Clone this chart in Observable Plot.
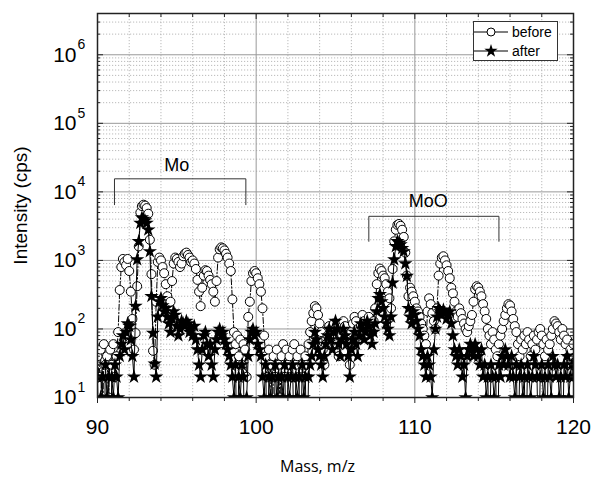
<!DOCTYPE html>
<html><head><meta charset="utf-8">
<script src="https://cdn.jsdelivr.net/npm/d3@7"></script>
<script src="https://cdn.jsdelivr.net/npm/@observablehq/plot@0.6"></script>
<style>
body{margin:0;background:#fff}
#wrap{position:relative;width:595px;height:477px}
.legend{position:absolute;left:473px;top:21px;width:83px;height:38px;border:1px solid #333;background:#fff;font:14px "Liberation Sans",Arial,sans-serif;color:#000}
.row{position:absolute;left:0;height:18px;display:flex;align-items:center}
.row svg{display:block}
.row span{margin-left:4px}
</style></head><body><div id="wrap"></div>
<script>
// sampling grid of the spectrum
const massStart = 90, massStep = 0.1;

// "before" intensities (cps), one value per 0.1 m/z from 90.0 to 120.0
const before = [
  40,20,50,0,60,30,40,10,50,30,
  60,20,40,90,370,800,1050,950,850,1050,
  700,350,140,50,87,420,1600,5000,6200,6500,
  6300,5800,4800,2000,630,48,30,250,950,1100,
  1000,800,650,450,300,200,250,500,900,1100,
  1050,950,800,900,1150,1250,1300,1200,1100,950,
  1000,900,750,520,350,215,400,600,720,700,
  600,520,450,350,250,500,1100,1450,1550,1500,
  1400,1250,1100,900,700,270,90,60,80,40,
  70,30,60,50,20,150,250,500,650,700,
  650,550,450,350,200,80,40,20,50,30,
  0,40,20,50,30,10,40,60,20,50,
  30,40,20,50,60,30,40,20,50,30,
  20,40,30,60,90,130,170,215,200,160,
  120,90,50,30,60,80,110,100,70,120,
  100,60,40,80,120,130,110,80,60,30,
  90,120,150,130,100,80,110,160,130,100,
  120,150,110,90,130,200,450,650,760,700,
  600,550,450,350,280,200,750,1900,2800,3300,
  3400,3200,2800,2200,1300,600,300,400,350,300,
  250,200,180,150,120,100,80,60,180,280,
  230,170,130,100,200,600,900,1100,1150,1000,
  850,700,550,400,330,250,180,150,200,170,
  140,120,100,90,110,130,160,250,380,420,
  400,350,300,230,180,140,100,80,60,90,
  70,50,40,60,80,100,130,160,200,230,
  220,180,140,110,90,60,40,70,50,80,
  60,90,70,40,60,80,50,70,90,100,
  80,60,40,70,50,60,80,100,130,120,
  110,90,70,100,80,60,70,40,50,30,
  60
];

// "after" intensities (cps), same grid
const after = [
  20,0,10,20,0,30,10,20,0,20,
  10,30,20,10,40,60,80,50,90,120,
  110,70,40,20,215,1030,1900,3500,4200,4000,
  3800,3500,2800,1350,300,87,31,20,150,250,
  280,220,180,200,150,120,90,140,180,160,
  110,80,100,130,120,110,130,120,90,100,
  80,110,70,50,30,20,50,80,90,60,
  40,60,30,20,50,70,90,100,80,90,
  70,60,50,40,30,20,10,30,0,20,
  10,30,20,0,10,40,70,90,100,80,
  90,60,50,40,20,10,30,0,20,10,
  20,0,30,10,20,0,20,10,30,0,
  20,10,20,30,0,20,10,20,0,30,
  10,20,0,20,30,40,60,90,70,50,
  40,30,20,40,60,80,100,70,50,90,
  130,100,60,40,70,100,80,60,40,20,
  50,70,90,60,40,80,120,100,70,90,
  130,110,80,60,90,120,180,280,320,250,
  200,150,120,100,80,150,470,1030,1600,1900,
  1800,1700,1500,1350,900,590,200,150,120,180,
  160,130,100,80,50,40,30,20,40,30,
  20,10,50,100,150,200,180,160,190,170,
  140,160,180,120,80,50,40,30,50,40,
  20,30,10,40,50,60,50,40,60,50,
  40,30,50,20,30,10,20,0,30,20,
  10,20,0,30,20,40,30,50,40,30,
  20,40,20,10,30,0,20,30,10,20,
  0,30,20,10,20,40,30,20,0,20,
  30,10,20,0,30,20,10,40,30,20,
  30,10,20,0,30,20,40,10,20,30,
  20
];

const seriesNames = ["before", "after"];
const xTickLabels = [90, 100, 110, 120];
const xMinorTicks = [92, 94, 96, 98, 102, 104, 106, 108, 112, 114, 116, 118];
const xInnerMajor = [100, 110];
const yDecades = [10, 100, 1000, 10000, 100000, 1000000];
const yExponents = ["1", "2", "3", "4", "5", "6"];
const yMultipliers = [2, 3, 4, 5, 6, 7, 8, 9];

// annotation brackets
const bracketNames = ["Mo", "MoO"];
const bracketX1 = [91.07, 107.1];
const bracketX2 = [99.35, 115.3];
const bracketTop = [15500, 4400];
const bracketEnd = [6500, 1900];
const labelX = [95.0, 110.85];
const labelY = [24500, 7400];

const yMax = 4e6;
const yMinor = yDecades.flatMap(d => yMultipliers.map(m => d * m)).filter(v => v < yMax);

const toRows = vals => vals.map((v, i) => ({mass: +(massStart + i * massStep).toFixed(1), v}));
const rowsBefore = toRows(before), rowsAfter = toRows(after);
const yv = d => d.v > 0 ? d.v : 1;

const bracketPts = bracketNames.flatMap((n, i) => [
  {n, x: bracketX1[i], y: bracketEnd[i]},
  {n, x: bracketX1[i], y: bracketTop[i]},
  {n, x: bracketX2[i], y: bracketTop[i]},
  {n, x: bracketX2[i], y: bracketEnd[i]}
]);
const bracketLabels = bracketNames.map((n, i) => ({n, x: labelX[i], y: labelY[i]}));

const W = 595, H = 477, mT = 13, mB = 80, mL = 97, mR = 22;
const fw = W - mL - mR, fh = H - mT - mB;
const tickCol = "#222";
const ff = "Liberation Sans, Arial, sans-serif";

const chart = Plot.plot({
  width: W, height: H,
  marginTop: mT, marginBottom: mB, marginLeft: mL, marginRight: mR,
  x: {domain: [90, 120], axis: null},
  y: {type: "log", domain: [10, yMax], axis: null},
  style: {fontFamily: ff, fontSize: "21px", background: "white", overflow: "visible", color: "black"},
  marks: [
    Plot.ruleY(yMinor, {stroke: "#aaa", strokeOpacity: 1, strokeWidth: 0.8, strokeDasharray: "1.2,1.8"}),
    Plot.ruleX(xMinorTicks, {stroke: "#aaa", strokeOpacity: 1, strokeWidth: 0.8, strokeDasharray: "1.2,1.8"}),
    Plot.ruleY(yDecades.slice(1), {stroke: "#999", strokeOpacity: 1, strokeWidth: 1}),
    Plot.ruleX(xInnerMajor, {stroke: "#999", strokeOpacity: 1, strokeWidth: 1}),
    // brackets
    Plot.line(bracketPts, {x: "x", y: "y", z: "n", stroke: "#333", strokeWidth: 1}),
    Plot.text(bracketLabels, {x: "x", y: "y", text: "n", fontSize: 18, fontFamily: ff}),
    // before
    Plot.line(rowsBefore, {x: "mass", y: yv, stroke: "black", strokeWidth: 1, strokeDasharray: "6,2,1.5,2", clip: true}),
    Plot.dot(rowsBefore, {x: "mass", y: yv, r: 4.5, fill: "white", stroke: "black", strokeWidth: 1, clip: true}),
    // after
    Plot.line(rowsAfter, {x: "mass", y: yv, stroke: "black", strokeWidth: 1, clip: true}),
    Plot.dot(rowsAfter, {x: "mass", y: yv, symbol: "star", r: 4.5, fill: "black", stroke: "none", clip: true}),
    // ticks
    Plot.ruleX(xTickLabels, {x: d => d, insetTop: fh, insetBottom: -6, stroke: tickCol}),
    Plot.ruleX(xMinorTicks, {x: d => d, insetTop: fh, insetBottom: -4, stroke: tickCol}),
    Plot.ruleX(xTickLabels, {x: d => d, insetBottom: fh - 6, stroke: tickCol}),
    Plot.ruleX(xMinorTicks, {x: d => d, insetBottom: fh - 4, stroke: tickCol}),
    Plot.ruleY(yDecades, {y: d => d, insetRight: fw - 6, stroke: tickCol}),
    Plot.ruleY(yMinor, {y: d => d, insetRight: fw - 3, stroke: tickCol}),
    Plot.ruleY(yDecades, {y: d => d, insetLeft: fw - 6, stroke: tickCol}),
    Plot.ruleY(yMinor, {y: d => d, insetLeft: fw - 3, stroke: tickCol}),
    Plot.frame({stroke: "#222", strokeWidth: 1.5}),
    // tick labels
    Plot.text(xTickLabels, {x: d => d, frameAnchor: "bottom", dy: 30, lineAnchor: "middle", text: d => String(d), fontSize: 21, fontFamily: ff}),
    Plot.text(yDecades, {y: d => d, frameAnchor: "left", dx: -21, textAnchor: "end", lineAnchor: "middle", text: () => "10", fontSize: 21, fontFamily: ff}),
    Plot.text(yDecades, {y: d => d, frameAnchor: "left", dx: -20, dy: -10, textAnchor: "start", lineAnchor: "middle", text: (d, i) => yExponents[i], fontSize: 14, fontFamily: ff}),
    // axis titles
    Plot.text(["Intensity (cps)"], {frameAnchor: "left", dx: -77, rotate: -90, textAnchor: "middle", lineAnchor: "middle", text: d => d, fontSize: 19, fontFamily: ff}),
    Plot.text(["Mass, m/z"], {frameAnchor: "bottom", dx: -18, dy: 69, textAnchor: "middle", lineAnchor: "middle", text: d => d, fontSize: 16, fontFamily: "Open Sans, sans-serif"})
  ]
});

const wrap = document.getElementById("wrap");
wrap.appendChild(chart);

// legend
const legend = document.createElement("div");
legend.className = "legend";
seriesNames.forEach((name, i) => {
  const row = document.createElement("div");
  row.className = "row";
  row.style.top = (i === 0 ? 1 : 20) + "px";
  const sym = name === "before"
    ? '<circle cx="17" cy="9" r="4" fill="white" stroke="black"/>'
    : '<path transform="translate(17,9)" d="' + d3.symbol(d3.symbolStar, 55)() + '" fill="black"/>';
  row.innerHTML = '<svg width="34" height="18"><line x1="0" x2="34" y1="9" y2="9" stroke="black" stroke-width="1.2"/>' + sym + '</svg><span>' + name + '</span>';
  legend.appendChild(row);
});
wrap.appendChild(legend);
</script>
</body></html>
